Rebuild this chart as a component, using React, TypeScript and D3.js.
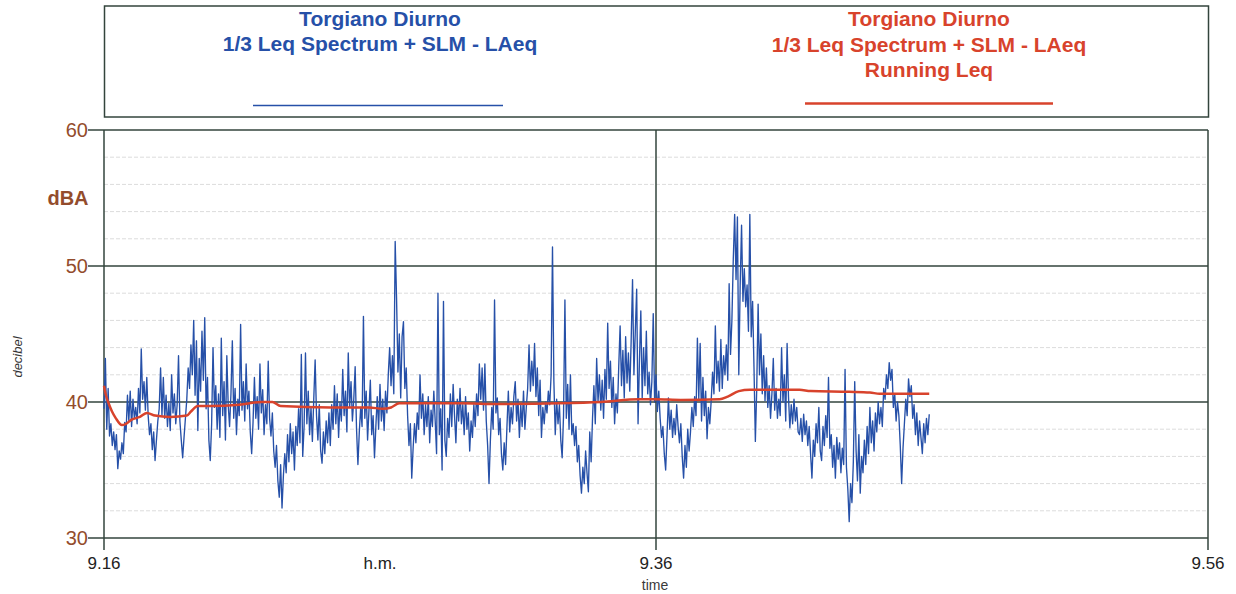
import React from "react";
import * as d3 from "d3";

// time in minutes after 9.16, 20 samples per minute
const blueM0 = [39.5,43.2,38.0,41.0,37.5,38.4,36.8,37.8,36.5,37.6,35.1,36.4,35.8,37.0,36.2,38.5,37.8,40.5,38.6,40.8];
const blueM1 = [38.2,40.2,38.8,39.6,38.4,41.0,39.2,43.9,40.2,41.5,39.4,41.8,39.0,37.6,38.4,36.5,37.8,35.7,37.2,38.6];
const blueM2 = [39.5,42.5,39.0,41.8,38.8,40.5,38.2,39.9,37.9,42.0,39.2,40.6,38.4,39.8,43.4,38.6,37.2,35.9,37.4,38.8];
const blueM3 = [40.2,42.5,41.0,44.2,42.0,46.0,40.5,44.5,37.9,43.2,40.8,45.2,41.6,46.2,39.5,41.8,37.2,35.7,38.4,44.0];
const blueM4 = [39.6,41.2,38.0,40.6,37.4,44.7,39.0,41.5,37.2,43.4,39.8,38.2,40.6,44.5,38.8,41.0,37.6,40.2,39.0,45.7];
const blueM5 = [39.4,41.5,38.6,42.8,39.5,40.8,37.8,36.2,38.5,41.8,38.8,40.4,38.0,42.8,39.2,40.9,37.6,39.8,38.4,43.0];
const blueM6 = [38.8,37.5,39.2,36.4,35.2,36.8,34.2,33.0,35.4,32.2,34.6,36.2,34.8,37.6,35.6,38.4,36.2,37.8,35.0,38.2];
const blueM7 = [36.8,39.5,37.0,43.5,36.0,38.2,43.6,38.4,40.8,37.6,39.6,37.1,40.2,43.1,39.0,37.2,39.8,36.4,35.5,37.8];
const blueM8 = [36.2,38.6,37.0,39.2,36.8,39.8,38.0,41.2,38.4,40.6,37.4,40.0,38.6,42.4,39.0,40.8,37.8,43.6,39.6,41.5];
const blueM9 = [38.6,40.2,42.6,38.0,35.4,37.8,39.6,38.2,46.3,38.8,40.8,37.2,39.4,41.6,37.6,39.0,35.9,38.2,40.4,38.0];
const blueM10 = [41.3,38.6,40.2,37.9,40.8,39.2,42.0,44.0,41.2,43.4,40.6,51.8,47.6,42.2,45.0,40.3,44.8,45.9,41.0,42.5];
const blueM11 = [39.0,36.8,38.4,34.4,36.6,38.4,37.0,39.2,38.0,42.0,38.8,40.6,37.6,39.8,38.2,40.4,37.0,39.4,38.2,40.8];
const blueM12 = [38.6,36.2,48.0,37.6,39.5,35.0,47.4,37.2,36.0,38.8,37.4,40.6,38.2,41.3,39.0,37.0,40.2,38.6,41.0,38.4];
const blueM13 = [39.8,37.6,40.4,38.0,39.2,36.4,38.6,37.4,39.8,38.2,40.6,39.0,42.8,40.2,42.5,39.4,42.8,38.6,36.8,34.0];
const blueM14 = [37.2,39.6,38.0,47.5,39.2,40.3,37.6,38.8,36.2,35.0,37.0,35.4,38.2,40.8,37.8,39.6,38.4,40.4,41.5,38.6];
const blueM15 = [40.2,37.4,39.8,38.2,40.8,38.0,39.6,41.0,44.2,40.8,43.0,41.2,44.3,40.4,42.5,39.0,41.6,37.4,39.6,38.4];
const blueM16 = [40.0,39.2,40.8,39.8,42.0,51.4,41.5,37.6,40.2,38.4,39.8,37.2,35.9,39.0,47.5,38.8,41.3,38.0,42.0,37.6];
const blueM17 = [38.4,36.8,38.2,35.6,36.8,34.6,33.3,35.2,34.0,36.4,34.8,33.4,37.8,35.6,38.8,41.2,38.4,43.2,40.0,42.0];
const blueM18 = [39.4,41.6,38.8,42.4,40.2,45.8,41.0,43.0,39.6,41.8,38.4,40.6,39.2,42.6,45.6,41.2,43.8,40.3,44.8,41.4];
const blueM19 = [43.6,40.8,44.5,49.0,42.0,45.2,48.3,38.4,43.0,46.7,40.3,44.0,41.2,45.2,40.6,42.2,39.8,41.5,46.5,40.0];
const blueM20 = [42.0,39.3,40.8,38.8,37.4,38.2,36.2,35.0,37.6,40.3,38.0,39.4,37.4,38.8,37.6,39.8,38.2,37.0,38.4,36.0];
const blueM21 = [34.4,36.8,35.2,38.0,36.4,37.8,39.6,38.2,40.4,39.0,44.7,40.2,44.3,38.6,41.8,39.0,40.8,37.3,39.6,38.4];
const blueM22 = [40.1,42.2,40.6,45.6,41.4,43.0,40.8,44.6,41.0,43.4,42.0,44.2,41.6,48.7,43.5,46.0,50.5,53.8,49.0,53.6];
const blueM23 = [42.0,48.6,53.0,47.4,49.8,47.0,48.6,45.2,53.8,44.8,47.4,42.6,37.1,41.0,47.2,42.0,45.0,40.6,43.4,40.1];
const blueM24 = [42.5,39.6,41.2,38.8,40.6,43.2,39.4,41.0,38.8,40.2,39.0,44.0,40.0,42.0,38.6,44.3,40.4,38.1,39.8,38.4];
const blueM25 = [40.2,38.6,39.6,37.8,37.6,38.8,37.1,39.1,37.6,38.6,36.8,38.2,36.2,34.4,37.2,36.0,38.4,37.0,39.6,36.4];
const blueM26 = [35.7,38.2,36.8,39.0,37.4,41.8,36.6,37.6,35.2,36.8,34.4,37.4,35.8,37.0,34.8,36.6,35.4,42.4,35.2,33.6];
const blueM27 = [31.2,34.0,32.6,35.6,41.5,36.4,34.2,37.6,33.3,36.0,34.8,37.2,35.4,38.2,36.2,39.6,37.0,38.6,36.4,39.2];
const blueM28 = [37.8,40.0,38.4,39.6,38.2,41.0,40.2,42.0,41.0,42.9,41.6,42.4,39.6,40.6,38.6,40.0,39.0,36.8,34.0,36.6];
const blueM29 = [38.4,40.2,39.0,41.7,40.4,41.2,38.8,39.8,37.6,39.2,36.8,38.6,37.4,36.2,38.4,37.0,38.8,37.6,39.1];

const blueValues: number[] = [
  ...blueM0, ...blueM1, ...blueM2, ...blueM3, ...blueM4, ...blueM5, ...blueM6, ...blueM7,
  ...blueM8, ...blueM9, ...blueM10, ...blueM11, ...blueM12, ...blueM13, ...blueM14, ...blueM15,
  ...blueM16, ...blueM17, ...blueM18, ...blueM19, ...blueM20, ...blueM21, ...blueM22, ...blueM23,
  ...blueM24, ...blueM25, ...blueM26, ...blueM27, ...blueM28, ...blueM29,
];
const SAMPLES_PER_MIN = 20;

// running Leq (minutes, dB)
const redTimes = [0,0.07,0.15,0.29,0.43,0.65,0.8,1.0,1.3,1.56,1.85,2.4,3.0,3.15,3.4,3.85,4.9,5.7,6.1,6.4,8.2,9.6,10.1,10.4,10.7,12.9,14.35,16.5,18,19.4,20,20.9,22.3,22.6,23,23.4,25.2,25.6,27,27.75,28.1,29.9];
const redValues = [41.2,40.5,40.0,39.3,38.8,38.3,38.4,38.7,38.9,39.2,39.0,38.9,39.0,39.3,39.7,39.7,39.8,40.0,40.0,39.7,39.6,39.6,39.5,39.6,39.9,39.9,39.85,39.9,40.0,40.2,40.2,40.15,40.2,40.4,40.8,40.9,40.9,40.8,40.75,40.7,40.6,40.6];

const yMajorTicks = [30, 40, 50, 60];
const yMinorTicks = [32, 34, 36, 38, 42, 44, 46, 48, 52, 54, 56, 58];
const xTickMinutes = [0, 20, 40];
const xTickLabels = ["9.16", "9.36", "9.56"];

const legendTitle = ["Torgiano Diurno", "1/3 Leq Spectrum + SLM - LAeq"];
const legendTitleRed = ["Torgiano Diurno", "1/3 Leq Spectrum + SLM - LAeq", "Running Leq"];

const W = 1236, H = 594;
const L = 104, R = 1208, T = 130, B = 538;
const BLUE = "#2650a8";
const RED = "#d8432c";
const DARK = "#33443c";
const BROWN = "#934c2c";
const FONT = "'Liberation Sans', Arial, sans-serif";

export default function App() {
  const x = d3.scaleLinear().domain([0, 40]).range([L, R]);
  const y = d3.scaleLinear().domain([30, 60]).range([B, T]);

  const bluePts = blueValues.map((v, i) => [i / SAMPLES_PER_MIN, v] as [number, number]);
  const redPts = redTimes.map((t, i) => [t, redValues[i]] as [number, number]);
  const line = d3.line<[number, number]>().x((d) => x(d[0])).y((d) => y(d[1]));

  return (
    <svg width={W} height={H} style={{ position: "absolute", left: 0, top: 0, background: "#fff" }} fontFamily={FONT}>
      <rect x={0} y={0} width={W} height={H} fill="#fff" />
      {/* legend box */}
      <rect x={104.5} y={6} width={1104} height={111} fill="none" stroke={DARK} strokeWidth={1.5} />
      {legendTitle.map((s, i) => (
        <text key={"b" + i} x={380} y={26 + i * 25} textAnchor="middle" fill={BLUE} fontSize={21} fontWeight="bold">{s}</text>
      ))}
      <line x1={253} x2={503} y1={105.5} y2={105.5} stroke={BLUE} strokeWidth={1.5} />
      {legendTitleRed.map((s, i) => (
        <text key={"r" + i} x={929} y={26 + i * 25.5} textAnchor="middle" fill={RED} fontSize={21} fontWeight="bold">{s}</text>
      ))}
      <line x1={805} x2={1053} y1={103.5} y2={103.5} stroke={RED} strokeWidth={2.5} />

      {/* minor grid */}
      {yMinorTicks.map((v) => (
        <line key={"m" + v} x1={L} x2={R} y1={y(v)} y2={y(v)} stroke="#dcdcdc" strokeWidth={1} strokeDasharray="4,2" />
      ))}
      {/* major grid */}
      {yMajorTicks.map((v) => (
        <g key={"M" + v}>
          <line x1={L - 16} x2={R} y1={y(v)} y2={y(v)} stroke={DARK} strokeWidth={1.6} />
          <text x={88} y={y(v) + 7} textAnchor="end" fill={BROWN} fontSize={20}>{v}</text>
        </g>
      ))}
      {/* vertical lines */}
      {xTickMinutes.map((m, i) => (
        <g key={"x" + m}>
          <line x1={x(m)} x2={x(m)} y1={T} y2={B + 12} stroke={DARK} strokeWidth={1.5} />
          <text x={x(m)} y={569} textAnchor="middle" fill="#222" fontSize={17}>{xTickLabels[i]}</text>
        </g>
      ))}
      <text x={380} y={569} textAnchor="middle" fill="#222" fontSize={17}>h.m.</text>
      <text x={655} y={590} textAnchor="middle" fill="#3a3a3a" fontSize={14}>time</text>
      <text x={68} y={205} textAnchor="middle" fill={BROWN} fontSize={20} fontWeight="bold">dBA</text>
      <text transform="translate(22,357) rotate(-90)" textAnchor="middle" fill="#333" fontSize={13} fontStyle="italic">decibel</text>

      {/* series */}
      <path d={line(bluePts) || ""} fill="none" stroke={BLUE} strokeWidth={1.35} strokeLinejoin="round" />
      <path d={line.curve(d3.curveMonotoneX)(redPts) || ""} fill="none" stroke={RED} strokeWidth={2.5} />
    </svg>
  );
}
